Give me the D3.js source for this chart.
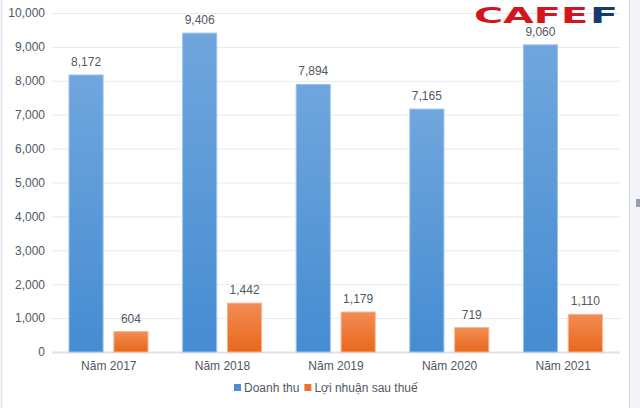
<!DOCTYPE html>
<html>
<head>
<meta charset="utf-8">
<script src="https://cdn.jsdelivr.net/npm/d3@7"></script>
<style>
  body { margin: 0; background: #fff; }
  text { font-family: "Liberation Sans", "Helvetica Neue", Arial, sans-serif; }
</style>
</head>
<body>
<div id="chart"></div>
<script>
// data
let years = ["Năm 2017", "Năm 2018", "Năm 2019", "Năm 2020", "Năm 2021"];
let revenue = [8172, 9406, 7894, 7165, 9060];
let profit = [604, 1442, 1179, 719, 1110];
let seriesNames = ["Doanh thu", "Lợi nhuận sau thuế"];
let yTicks = [0, 1000, 2000, 3000, 4000, 5000, 6000, 7000, 8000, 9000, 10000];

let w = 640, h = 408;
let plotLeft = 52, plotRight = 620, plotTop = 13, plotBottom = 352;
let textColor = "#4f5864";

let svg = d3.select("#chart")
  .append("svg")
  .attr("width", w)
  .attr("height", h);

// gradients
let defs = svg.append("defs");
function grad(id, c1, c2){
  let g = defs.append("linearGradient")
    .attr("id", id).attr("x1", 0).attr("y1", 0).attr("x2", 0).attr("y2", 1);
  g.append("stop").attr("offset", "0%").attr("stop-color", c1);
  g.append("stop").attr("offset", "100%").attr("stop-color", c2);
}
grad("gBlue", "#70a6dd", "#458cd2");
grad("gOrange", "#f28c55", "#e8681b");

// spreadsheet edges
svg.append("line").attr("x1", 1.5).attr("x2", 1.5).attr("y1", 0).attr("y2", h)
  .attr("stroke", "#e4e7ee").attr("stroke-width", 2);
svg.append("rect").attr("x", 629).attr("y", 0).attr("width", 11).attr("height", h)
  .attr("fill", "#f3f4f7");
svg.append("line").attr("x1", 629.5).attr("x2", 629.5).attr("y1", 0).attr("y2", h)
  .attr("stroke", "#d5d8de");
svg.append("rect").attr("x", 636).attr("y", 199).attr("width", 4).attr("height", 8)
  .attr("fill", "#9a9ea8");

// scales
let x0 = d3.scaleBand().domain(years).range([plotLeft, plotRight]);
let x1 = d3.scaleBand().domain([0, 1]).range([17, 96]).paddingInner(0.24);
let y = d3.scaleLinear().domain([0, 10000]).range([plotBottom, plotTop]);

// grid
svg.append("g")
  .selectAll("line")
  .data(yTicks)
  .join("line")
    .attr("x1", plotLeft).attr("x2", plotRight)
    .attr("y1", d => y(d) + 0.5).attr("y2", d => y(d) + 0.5)
    .attr("stroke", d => d === 0 ? "#dde1e8" : "#e6e9ef")
    .attr("stroke-width", d => d === 0 ? 2 : 1);

// y axis labels
let yAxis = d3.axisLeft(y).tickValues(yTicks).tickSize(0).tickPadding(0)
  .tickFormat(d3.format(","));
let ya = svg.append("g").attr("transform", "translate(45,0)").call(yAxis);
ya.select(".domain").remove();
ya.selectAll("text").attr("font-size", 12).attr("fill", textColor)
  .style("font-family", "'Liberation Sans', Arial, sans-serif");

// x axis labels
let xAxis = d3.axisBottom(x0).tickSize(0).tickPadding(0);
let xa = svg.append("g").attr("transform", "translate(0,361)").call(xAxis);
xa.select(".domain").remove();
xa.selectAll("text").attr("font-size", 12).attr("fill", textColor)
  .style("font-family", "'Liberation Sans', Arial, sans-serif");

// bars
let rows = years.map((yr, i) => ({ year: yr, vals: [revenue[i], profit[i]] }));
let fills = ["url(#gBlue)", "url(#gOrange)"];
let strokes = ["#9cc3ea", "#f7b48c"];

let groups = svg.append("g")
  .selectAll("g")
  .data(rows)
  .join("g")
    .attr("transform", d => "translate(" + x0(d.year) + ",0)");

groups.selectAll("rect")
  .data(d => d.vals.map((v, k) => ({ v: v, k: k })))
  .join("rect")
    .attr("x", d => x1(d.k))
    .attr("y", d => y(d.v))
    .attr("width", x1.bandwidth())
    .attr("height", d => y(0) - y(d.v))
    .attr("fill", d => fills[d.k])
    .attr("stroke", d => strokes[d.k])
    .attr("stroke-width", 1);

groups.selectAll("text.val")
  .data(d => d.vals.map((v, k) => ({ v: v, k: k })))
  .join("text")
    .attr("class", "val")
    .attr("x", d => x1(d.k) + x1.bandwidth() / 2)
    .attr("y", d => y(d.v) - 9)
    .attr("text-anchor", "middle")
    .attr("font-size", 12)
    .attr("fill", textColor)
    .text(d => d3.format(",")(d.v));

// legend
let leg = svg.append("g");
let lx = 234;
seriesNames.forEach((name, k) => {
  leg.append("rect").attr("x", lx).attr("y", 384).attr("width", 7).attr("height", 7)
    .attr("fill", k === 0 ? "#4a8fd4" : "#ec7428");
  let t = leg.append("text").attr("x", lx + 10).attr("y", 392)
    .attr("font-size", 12).attr("fill", textColor).text(name);
  lx = lx + 10 + t.node().getComputedTextLength() + 5;
});

// logo
let logo = svg.append("g");
logo.append("text").attr("x", 474).attr("y", 23)
  .attr("font-size", 21).attr("font-weight", 900)
  .style("font-family", "'DejaVu Sans', sans-serif")
  .attr("fill", "#d3151d")
  .attr("textLength", 114).attr("lengthAdjust", "spacingAndGlyphs")
  .text("CAFE");
logo.append("text").attr("x", 590).attr("y", 23)
  .attr("font-size", 21).attr("font-weight", 900)
  .style("font-family", "'DejaVu Sans', sans-serif")
  .attr("fill", "#123a73")
  .attr("textLength", 28).attr("lengthAdjust", "spacingAndGlyphs")
  .text("F");
</script>
</body>
</html>
